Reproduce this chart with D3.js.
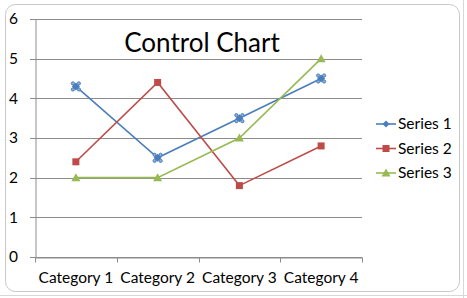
<!DOCTYPE html>
<html>
<head>
<meta charset="utf-8">
<script src="https://cdn.jsdelivr.net/npm/d3@7"></script>
<style>
  body { margin: 0; background: #fff; }
  text { font-family: Lato, "Open Sans", sans-serif; fill: #000; }
</style>
</head>
<body>
<div id="chart"></div>
<script>
const categories = ["Category 1", "Category 2", "Category 3", "Category 4"];
const series1 = [4.3, 2.5, 3.5, 4.5];
const series2 = [2.4, 4.4, 1.8, 2.8];
const series3 = [2, 2, 3, 5];
const seriesNames = ["Series 1", "Series 2", "Series 3"];
const yTicks = [0, 1, 2, 3, 4, 5, 6];
const title = "Control Chart";

const width = 467, height = 298,
  margin = { top: 19, bottom: 41, left: 35, right: 105 };

const colors = ["#4a7ebb", "#be4b48", "#98b954"];
const allSeries = [series1, series2, series3];

const svg = d3.select("#chart")
  .append("svg")
  .attr("width", width)
  .attr("height", height);

// frame of the chart object
svg.append("rect")
  .attr("x", 5.5).attr("y", 4.5)
  .attr("width", 454).attr("height", 287)
  .attr("rx", 10)
  .attr("fill", "#fff")
  .attr("stroke", "#c8c8c8");
svg.append("line")
  .attr("x1", 463.5).attr("x2", 463.5).attr("y1", 0).attr("y2", 298)
  .attr("stroke", "#d8d8d8");
svg.append("line")
  .attr("x1", 0).attr("x2", 467).attr("y1", 295.5).attr("y2", 295.5)
  .attr("stroke", "#d8d8d8");

const xScale = d3.scaleBand()
  .domain(categories)
  .range([margin.left, width - margin.right]);

const yScale = d3.scaleLinear()
  .domain([0, 6])
  .range([height - margin.bottom, margin.top]);

// gridlines
svg.append("g")
  .selectAll("line")
  .data(yTicks)
  .join("line")
  .attr("x1", margin.left - 5)
  .attr("x2", width - margin.right)
  .attr("y1", d => Math.round(yScale(d)) + 0.5)
  .attr("y2", d => Math.round(yScale(d)) + 0.5)
  .attr("stroke", "#8c8c8c")
  .attr("stroke-width", 1);

// y axis
const yAxis = d3.axisLeft(yScale).tickValues(yTicks).tickFormat(d3.format("d")).tickSize(0);
const yg = svg.append("g")
  .attr("transform", `translate(${margin.left + 0.5},0)`)
  .call(yAxis);
yg.select(".domain").attr("stroke", "#8c8c8c");
yg.selectAll("text").style("font-size", "15.5px").attr("text-anchor", "middle").attr("x", -22);

// x axis
const xAxis = d3.axisBottom(xScale).tickSize(0).tickPadding(14);
const xg = svg.append("g")
  .attr("transform", `translate(0,${Math.round(yScale(0)) + 0.5})`)
  .call(xAxis);
xg.select(".domain").attr("stroke", "#8c8c8c");
xg.selectAll("text").style("font-size", "15.5px");
xg.selectAll(".sep")
  .data(d3.range(categories.length + 1))
  .join("line")
  .attr("class", "sep")
  .attr("x1", i => Math.round(margin.left + i * xScale.step()) + 0.5)
  .attr("x2", i => Math.round(margin.left + i * xScale.step()) + 0.5)
  .attr("y1", 0).attr("y2", 5)
  .attr("stroke", "#8c8c8c");

const cx = c => xScale(c) + xScale.bandwidth() / 2;

const line = d3.line()
  .x((d, i) => cx(categories[i]))
  .y(d => yScale(d));

// series lines
svg.append("g")
  .selectAll("path")
  .data(allSeries)
  .join("path")
  .attr("d", d => line(d))
  .attr("fill", "none")
  .attr("stroke", (d, i) => colors[i])
  .attr("stroke-width", 1.6);

function marker(g, k, x, y, legend) {
  if (k === 0) {
    if (legend) {
      g.append("path")
        .attr("d", `M${x},${y - 3.5}L${x + 3.5},${y}L${x},${y + 3.5}L${x - 3.5},${y}Z`)
        .attr("fill", colors[0]);
    } else {
      // selected diamond marker with handles
      g.append("path")
        .attr("d", `M${x},${y - 4}L${x + 4},${y}L${x},${y + 4}L${x - 4},${y}Z`)
        .attr("fill", colors[0]);
      [[-3, -3], [3, -3], [-3, 3], [3, 3]].forEach(o => {
        g.append("circle")
          .attr("cx", x + o[0]).attr("cy", y + o[1]).attr("r", 1.6)
          .attr("fill", "#8fb0d8").attr("stroke", colors[0]).attr("stroke-width", 1);
      });
    }
  } else if (k === 1) {
    g.append("rect")
      .attr("x", x - 3.5).attr("y", y - 3.5)
      .attr("width", 7).attr("height", 7)
      .attr("fill", colors[1]);
  } else {
    g.append("path")
      .attr("d", `M${x},${y - 4.5}L${x + 4.5},${y + 3.5}L${x - 4.5},${y + 3.5}Z`)
      .attr("fill", colors[2]);
  }
}

const mg = svg.append("g");
allSeries.forEach((s, k) => {
  s.forEach((v, i) => marker(mg, k, cx(categories[i]), yScale(v), false));
});

// title
svg.append("text")
  .attr("x", 202)
  .attr("y", 52)
  .attr("text-anchor", "middle")
  .style("font-size", "26px")
  .text(title);

// legend
const legend = svg.append("g");
seriesNames.forEach((name, k) => {
  const y = 124 + k * 24.5;
  legend.append("line")
    .attr("x1", 376).attr("x2", 396)
    .attr("y1", y).attr("y2", y)
    .attr("stroke", colors[k]).attr("stroke-width", 1.6);
  marker(legend, k, 386, y, true);
  legend.append("text")
    .attr("x", 398)
    .attr("y", y)
    .attr("dy", "0.35em")
    .style("font-size", "15.5px")
    .text(name);
});
</script>
</body>
</html>
